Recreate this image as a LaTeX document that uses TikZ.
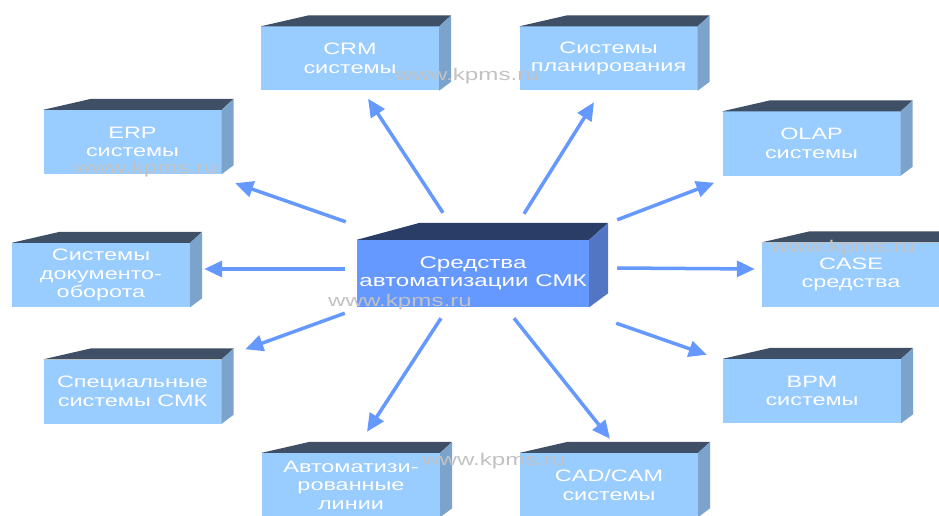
\documentclass[tikz,border=0pt]{standalone}
\usepackage{fontspec}
\usetikzlibrary{arrows.meta, calc}
\newfontfamily\boxfont[FakeStretch=1.42]{Liberation Sans}

\definecolor{boxfront}{HTML}{99CCFF}
\definecolor{boxtop}{HTML}{3E4F66}
\definecolor{boxside}{HTML}{7BA3CC}
\definecolor{midfront}{HTML}{6699FF}
\definecolor{midtop}{HTML}{2A3D66}
\definecolor{midside}{HTML}{5276C4}
\definecolor{arrowblue}{HTML}{6699FF}
\definecolor{markgray}{HTML}{C2C2C2}

\begin{document}
\begin{tikzpicture}[x=1pt, y=-1pt,
  box/.style={fill=boxfront, text=white, align=center, inner sep=0pt,
    minimum width=178pt, minimum height=64pt,
    font=\boxfont\fontsize{16.5}{18.5}\selectfont},
  midbox/.style={box, fill=midfront, minimum width=232pt, minimum height=67pt,
    font=\boxfont\fontsize{17}{18.5}\selectfont},
  link/.style={-{Triangle[length=18pt,width=16pt]}, draw=arrowblue, line width=3.5pt},
  watermark/.style={text=markgray, anchor=base, inner sep=0pt,
    font=\boxfont\fontsize{17}{18}\selectfont}]

  \useasboundingbox (0,0) rectangle (939,516);
  \clip (0,0) rectangle (939,516);

% define the boxes
  \node[midbox] (smk)  at (473,273.5) {Средства\\автоматизации СМК};
  \node[box]    (crm)  at (350,58.5)  {CRM\\системы};
  \node[box]    (plan) at (608.5,58.5) {Системы\\планирования};
  \node[box]    (erp)  at (132.5,142) {ERP\\системы};
  \node[box]    (olap) at (811.5,143.5) {OLAP\\системы};
  \node[box]    (doc)  at (101,275)   {Системы\\документо-\\оборота};
  \node[box]    (case) at (851,274.5) {CASE\\средства};
  \node[box]    (spec) at (132.5,391.5) {Специальные\\системы СМК};
  \node[box]    (bpm)  at (812,391)   {BPM\\системы};
  \node[box]    (auto) at (351,485)   {Автоматизи-\\рованные\\линии};
  \node[box]    (cad)  at (609,485)   {CAD/CAM\\системы};

% top and side faces
  \foreach \n in {crm,plan,erp,olap,doc,case,spec,bpm,auto,cad} {
    \fill[boxtop] (\n.north west) -- ++(48,-11) -- ([shift={(12,-11)}]\n.north east)
      -- (\n.north east) -- cycle;
    \fill[boxside] (\n.north east) -- ++(12,-11) -- ([shift={(12,-9)}]\n.south east)
      -- (\n.south east) -- cycle;
  }
  \fill[midtop] (smk.north west) -- ++(63,-17) -- ([shift={(19,-17)}]smk.north east)
    -- (smk.north east) -- cycle;
  \fill[midside] (smk.north east) -- ++(19,-17) -- ([shift={(19,-14)}]smk.south east)
    -- (smk.south east) -- cycle;

% define the links
  \draw[link] ([shift={(-30,-27)}]smk.north)      -- ([shift={(18,8)}]crm.south);
  \draw[link] ([shift={(51,-26)}]smk.north)       -- ([shift={(-14.5,11.5)}]plan.south);
  \draw[link] ([shift={(-11,-18)}]smk.north west) -- ([shift={(13.5,9)}]erp.south east);
  \draw[link] ([shift={(-12,-4.5)}]smk.west)      -- ([shift={(14,-6)}]doc.east);
  \draw[link] ([shift={(28,-20)}]smk.north east)  -- ([shift={(-8,7)}]olap.south west);
  \draw[link] ([shift={(28,-5.5)}]smk.east)       -- ([shift={(-7,-5.5)}]case.west);
  \draw[link] ([shift={(-12,6)}]smk.south west)   -- ([shift={(23.5,-10)}]spec.north east);
  \draw[link] ([shift={(27,16)}]smk.south east)   -- ([shift={(-16,-4)}]bpm.north west);
  \draw[link] ([shift={(-32,11)}]smk.south)       -- ([shift={(16,-21)}]auto.north);
  \draw[link] ([shift={(41,11)}]smk.south)        -- ([shift={(1,-14)}]cad.north);

% watermarks
  \node[watermark] (wm1) at (467,81)  {www.kpms.ru};
  \node[watermark] (wm2) at (146,173) {www.kpms.ru};
  \node[watermark] (wm3) at (843,252) {www.kpms.ru};
  \node[watermark] (wm4) at (400,306) {www.kpms.ru};
  \node[watermark] (wm5) at (494,465) {www.kpms.ru};

\end{tikzpicture}
\end{document}
